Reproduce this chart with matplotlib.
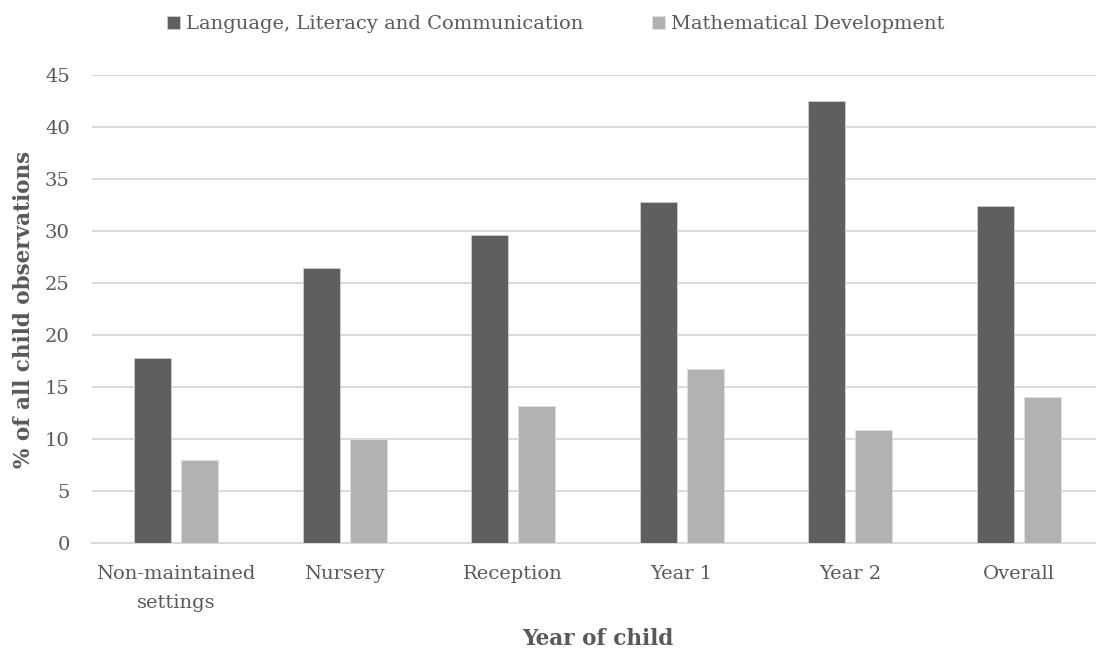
import matplotlib
matplotlib.use('Agg')
from matplotlib import pyplot as plt
import numpy as np

categories = ['Non-maintained\nsettings', 'Nursery', 'Reception', 'Year 1', 'Year 2', 'Overall']
literacy = [17.8, 26.4, 29.6, 32.8, 42.5, 32.4]
maths = [8.0, 10.0, 13.2, 16.7, 10.9, 14.0]
series_names = ['Language, Literacy and Communication', 'Mathematical Development']

plt.rcParams['font.family'] = ['DejaVu Serif']
text_col = '#595959'
grid_col = '#d9d9d9'

fig = plt.figure(figsize=(10.96, 6.53), dpi=100)
ax = fig.add_axes([0.0839, 0.1685, 0.9225, 0.7167])

x = np.arange(len(categories))
w = 0.22
off = 0.14
ax.bar(x - off, literacy, w, color='#5f5f5f', edgecolor='#d0d0d0', linewidth=0.6,
       label=series_names[0], zorder=3)
ax.bar(x + off, maths, w, color='#b2b2b2', edgecolor='#e0e0e0', linewidth=0.6,
       label=series_names[1], zorder=3)

ax.set_xlim(-0.5, len(categories) - 0.5)
ax.set_ylim(0, 45)
ax.set_yticks(np.arange(0, 46, 5))
ax.set_xticks(x)
ax.set_xticklabels(categories, fontsize=14, color=text_col, linespacing=1.8)
ax.tick_params(axis='y', labelsize=14, labelcolor=text_col, length=0, pad=16)
ax.tick_params(axis='x', length=0, pad=16)

ax.grid(axis='y', color=grid_col, linewidth=1.4, zorder=0)
for s in ['top', 'right', 'left']:
    ax.spines[s].set_visible(False)
ax.spines['bottom'].set_color(grid_col)
ax.spines['bottom'].set_linewidth(1.4)

ax.set_ylabel('% of all child observations', fontsize=15.5, fontweight='bold',
              color=text_col)
ax.yaxis.set_label_coords(-0.056, 0.5)
ax.set_xlabel('Year of child', fontsize=15.5, fontweight='bold', color=text_col,
              labelpad=11)

fig.legend(loc='center', bbox_to_anchor=(0.507, 0.963), ncol=2, frameon=False,
           fontsize=14, labelcolor=text_col, handlelength=0.7, handleheight=0.7,
           handletextpad=0.3, columnspacing=3.5)

fig.savefig('out.png', dpi=100)
